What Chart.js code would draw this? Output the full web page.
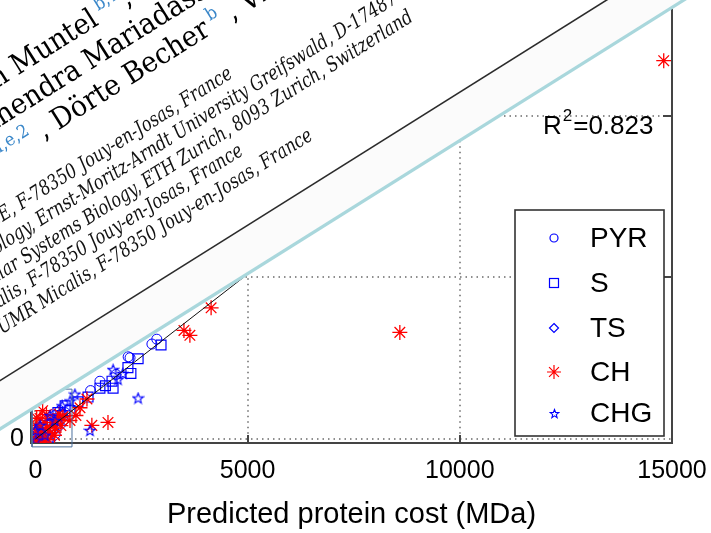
<!DOCTYPE html>
<html><head><meta charset="utf-8">
<script src="https://cdn.jsdelivr.net/npm/chart.js@4/dist/chart.umd.min.js"></script>
<style>html,body{margin:0;padding:0;background:#fff;overflow:hidden}canvas{display:block}</style>
</head><body>
<canvas id="c" width="711" height="533"></canvas>
<script>
// ---------- data ----------
const seriesNames = ['PYR', 'S', 'TS', 'CH', 'CHG'];
const xTickValues = [0, 5000, 10000, 15000];
const yTickValues = [0, 5000, 10000];
const xTitle = 'Predicted protein cost (MDa)';
const r2Value = '0.823';

const pyrPoints = [[60,60],[110,210],[225,330],[345,575],[460,730],[580,880],[150,420],[300,150],[400,260],[520,450],[700,820],[1520,1790],[2185,2545],[2230,2515],[2745,2940],[2860,3090],[1900,2000],[1300,1500]];
const sPoints = [[2960,2910],[2420,2485],[2180,2210],[2250,2030],[1830,1575],[1520,1575],[1805,1790],[1240,1300],[700,1030],[530,820],[815,880],[390,575],[630,730],[225,425],[110,180],[300,60],[1000,1150],[1650,1650]];
const tsPoints = [[460,120],[155,30],[390,330],[60,270],[580,425],[250,200],[700,600]];
const chPoints = [[14805,11700],[8587,3300],[4140,4060],[3500,3360],[3640,3210],[1710,515],[1330,425],[1215,1240],[1050,970],[955,730],[815,575],[20,-40],[60,80],[150,260],[10,420],[110,640],[230,510],[350,200],[470,340],[300,-20],[200,-90],[80,300],[40,180],[260,760],[520,610],[600,420],[130,30],[390,520],[170,880],[30,650],[450,120],[560,780],[90,-60],[280,360],[650,700]];
const chgPoints = [[2420,1270],[1830,2150],[1285,270],[930,1390],[1945,1850],[2060,2030],[815,1180],[110,425],[225,120],[345,730],[460,575],[15,-30],[630,1030],[0,270]];
const fitLine = [[0,0],[15000,15300]];
const zoomBox = [[-80,-240],[862,-240],[862,1545],[-80,1545],[-80,-240]];

// paper overlay text
const affiliationLines = [
  'a INRA, UR1404 MaIAGE, F-78350 Jouy-en-Josas, France',
  'b Institute for Microbiology, Ernst-Moritz-Arndt University Greifswald, D-17487 Greifswald, Germany',
  'c Institute of Molecular Systems Biology, ETH Zurich, 8093 Zurich, Switzerland',
  'd INRA, UMR1319 Micalis, F-78350 Jouy-en-Josas, France',
  'e AgroParisTech, UMR Micalis, F-78350 Jouy-en-Josas, France'
];

// ---------- helpers ----------
const toXY = arr => arr.map(p => ({x: p[0], y: p[1]}));
function makeStar(size, lw) {
  const c = document.createElement('canvas');
  c.width = size; c.height = size;
  const g = c.getContext('2d');
  const cx = size / 2, cy = size / 2 + 0.5, R = size / 2 - 1, r = R * 0.42;
  g.beginPath();
  for (let i = 0; i < 10; i++) {
    const a = -Math.PI / 2 + i * Math.PI / 5;
    const rr = i % 2 ? r : R;
    g[i ? 'lineTo' : 'moveTo'](cx + rr * Math.cos(a), cy + rr * Math.sin(a));
  }
  g.closePath();
  g.strokeStyle = '#0000ff'; g.lineWidth = lw; g.stroke();
  return c;
}
const starBig = makeStar(13, 1.1);
const starSmall = makeStar(11, 1.1);

function marker(ctx, kind, x, y, r) {
  ctx.save();
  ctx.lineWidth = 1.2;
  ctx.strokeStyle = kind === 'CH' ? '#ff0000' : '#0000ff';
  ctx.beginPath();
  if (kind === 'PYR') { ctx.arc(x, y, r, 0, Math.PI * 2); ctx.stroke(); }
  else if (kind === 'S') { ctx.strokeRect(x - r, y - r, 2 * r, 2 * r); }
  else if (kind === 'TS') { ctx.moveTo(x, y - r); ctx.lineTo(x + r, y); ctx.lineTo(x, y + r); ctx.lineTo(x - r, y); ctx.closePath(); ctx.stroke(); }
  else if (kind === 'CH') {
    for (let i = 0; i < 4; i++) { const a = i * Math.PI / 4; ctx.moveTo(x - r * Math.cos(a), y - r * Math.sin(a)); ctx.lineTo(x + r * Math.cos(a), y + r * Math.sin(a)); }
    ctx.stroke();
  } else if (kind === 'CHG') { ctx.drawImage(starSmall, Math.round(x - 5.5), Math.round(y - 5.5)); }
  ctx.restore();
}

// draws text segments along the local x axis; segment anchorIdx starts at u0
function drawRun(ctx, segs, anchorIdx, u0, v) {
  const widths = segs.map(s => { ctx.font = s.f; return ctx.measureText(s.t).width * (s.sx || 1); });
  let u = u0;
  for (let i = 0; i < anchorIdx; i++) u -= widths[i];
  segs.forEach((s, i) => {
    ctx.save();
    ctx.translate(u, v + (s.dy || 0));
    ctx.scale(s.sx || 1, 1);
    ctx.font = s.f; ctx.fillStyle = s.c;
    ctx.fillText(s.t, 0, 0);
    ctx.restore();
    u += widths[i];
  });
}

const deco = {
  id: 'deco',
  beforeDatasetsDraw(chart) {
    const {ctx, chartArea: a, scales: {x, y}} = chart;
    ctx.save();
    ctx.strokeStyle = '#6a6a6a'; ctx.lineWidth = 1.5; ctx.setLineDash([1.5, 4]);
    xTickValues.forEach(v => {
      const px = Math.round(x.getPixelForValue(v));
      if (px > a.right - 3) return;
      ctx.beginPath(); ctx.moveTo(px, a.top); ctx.lineTo(px, a.bottom - 1); ctx.stroke();
    });
    yTickValues.forEach(v => {
      const py = Math.round(y.getPixelForValue(v));
      ctx.beginPath(); ctx.moveTo(a.left, py); ctx.lineTo(a.right, py); ctx.stroke();
    });
    ctx.restore();
  },
  afterDatasetsDraw(chart) {
    const {ctx, chartArea: a, scales: {x, y}} = chart;
    ctx.save();
    ctx.strokeStyle = '#444'; ctx.lineWidth = 2;
    ctx.beginPath(); ctx.moveTo(a.right, a.top); ctx.lineTo(a.right, a.bottom); ctx.stroke();
    xTickValues.forEach(v => {
      const px = Math.round(x.getPixelForValue(v));
      if (px <= a.left + 5 || px >= a.right - 3) return;
      ctx.beginPath(); ctx.moveTo(px, a.bottom); ctx.lineTo(px, a.bottom - 8); ctx.stroke();
    });
    yTickValues.forEach(v => {
      const py = Math.round(y.getPixelForValue(v));
      if (py >= a.bottom - 5) return;
      ctx.beginPath(); ctx.moveTo(a.right, py); ctx.lineTo(a.right - 9, py); ctx.stroke();
      ctx.beginPath(); ctx.moveTo(a.left, py); ctx.lineTo(a.left + 9, py); ctx.stroke();
    });
    // R^2 annotation
    const py10 = y.getPixelForValue(10000);
    let tx = a.right - 129;
    const base = py10 + 18;
    ctx.fillStyle = '#000';
    ctx.textBaseline = 'alphabetic'; ctx.textAlign = 'left';
    ctx.font = '26px "Liberation Sans"';
    ctx.fillText('R', tx, base); tx += ctx.measureText('R').width + 1;
    ctx.font = '17px "Liberation Sans"';
    ctx.fillText('2', tx, base - 13); tx += ctx.measureText('2').width + 1;
    ctx.font = '26px "Liberation Sans"';
    ctx.fillText('=' + r2Value, tx, base);
    // legend
    const bx = a.right - 157, by = a.bottom - 233, bw = 149, bh = 226;
    ctx.fillStyle = '#fff'; ctx.fillRect(bx, by, bw, bh);
    ctx.strokeStyle = '#333'; ctx.lineWidth = 1.6; ctx.strokeRect(bx, by, bw, bh);
    const rows = [28, 73, 118, 162, 203];
    const sizes = {PYR: 4, S: 4.5, TS: 4.5, CH: 7, CHG: 4};
    ctx.font = '28px "Liberation Sans"'; ctx.textBaseline = 'middle';
    seriesNames.forEach((n, i) => {
      marker(ctx, n, bx + 39, by + rows[i], sizes[n]);
      ctx.fillStyle = '#000';
      ctx.fillText(n, bx + 75, by + rows[i] + 1);
    });
    ctx.restore();
  },
  afterDraw(chart) {
    const ctx = chart.ctx;
    const TH = 32.1 * Math.PI / 180;
    ctx.save();
    ctx.translate(0, 429);
    ctx.rotate(-TH);
    ctx.fillStyle = '#ffffff';
    ctx.fillRect(-800, -1400, 3000, 1400);
    ctx.fillStyle = '#fbfbfb';
    ctx.fillRect(-800, -41, 3000, 41);
    ctx.strokeStyle = '#2b2b2b'; ctx.lineWidth = 1.6;
    ctx.beginPath(); ctx.moveTo(-800, -41); ctx.lineTo(2200, -41); ctx.stroke();
    ctx.strokeStyle = '#a9d7dc'; ctx.lineWidth = 3.2;
    ctx.beginPath(); ctx.moveTo(-800, 0); ctx.lineTo(2200, 0); ctx.stroke();

    ctx.textBaseline = 'alphabetic'; ctx.textAlign = 'left';
    // affiliations (italic, slightly condensed)
    const SX = 0.8;
    ctx.font = 'italic 100px "DejaVu Serif"';
    const ref = ctx.measureText('UMR Micalis, F-78350 Jouy-en-Josas, France').width * SX;
    const sf = 'italic ' + (100 * 368 / ref).toFixed(2) + 'px "DejaVu Serif"';
    const T = '#111';
    const one = t => [{t, f: sf, c: T, sx: SX}];
    drawRun(ctx, one(affiliationLines[0]), 1, 385, -174);
    drawRun(ctx, one(affiliationLines[2]), 1, 568, -126);
    drawRun(ctx, one(affiliationLines[3]), 1, 353, -103);
    drawRun(ctx, one(affiliationLines[4]), 1, 420, -79);
    const bline = affiliationLines[1];
    const cut = bline.indexOf('D-17487');
    drawRun(ctx, [{t: bline.slice(0, cut), f: sf, c: T, sx: SX}, {t: bline.slice(cut), f: sf, c: T, sx: SX}], 1, 494, -150);

    // author names
    const nf = '29px "DejaVu Serif"', supf = '18px "DejaVu Serif"';
    const K = '#000', B = '#3a87c9', NS = 0.92;
    const N = t => ({t, f: nf, c: K, sx: NS});
    const S = t => ({t, f: supf, c: B, sx: NS, dy: -12});
    drawRun(ctx, [N('Anne Goelzer'), S(' a,1'), N(', Jan '), N('Muntel'), S(' b,1'), N(', Victor Chubukov')], 3, 203, -290);
    drawRun(ctx, [N('Rolf Nölker'), S(' b'), N(', Mahendra '), N('Mariadassou'), S(' a'), N(', Stéphane Aymerich')], 3, 267, -256);
    drawRun(ctx, [N('Philippe Noirot '), S('a,e,2'), N(' , '), N('Dörte Becher'), S(' b'), N(' , Vincent Fromion')], 3, 208, -222);
    ctx.restore();
  }
};

Chart.defaults.font.family = '"Liberation Sans", Arial, sans-serif';
Chart.defaults.color = '#000';

new Chart(document.getElementById('c'), {
  type: 'scatter',
  data: {
    datasets: [
      {label: 'fit', data: toXY(fitLine), showLine: true, borderColor: '#111', borderWidth: 1, pointRadius: 0, fill: false},
      {label: 'box', data: toXY(zoomBox), showLine: true, borderColor: '#4b6f9c', borderWidth: 1, pointRadius: 0, fill: false, clip: false},
      {label: seriesNames[4], data: toXY(chgPoints), pointStyle: starBig, pointRadius: 6},
      {label: seriesNames[3], data: toXY(chPoints), pointStyle: 'star', pointRadius: 7.5, borderColor: '#ff0000', backgroundColor: '#ff0000', pointBorderWidth: 1.3},
      {label: seriesNames[2], data: toXY(tsPoints), pointStyle: 'rectRot', pointRadius: 6, borderColor: '#0000ff', backgroundColor: 'rgba(0,0,0,0)', pointBorderWidth: 1},
      {label: seriesNames[1], data: toXY(sPoints), pointStyle: 'rect', pointRadius: 7, borderColor: '#0000ff', backgroundColor: 'rgba(0,0,0,0)', pointBorderWidth: 1.2},
      {label: seriesNames[0], data: toXY(pyrPoints), pointStyle: 'circle', pointRadius: 5, borderColor: '#0000ff', backgroundColor: 'rgba(0,0,0,0)', pointBorderWidth: 1}
    ]
  },
  options: {
    responsive: false,
    animation: false,
    events: [],
    layout: {padding: {left: 0, right: 39, top: 0, bottom: 0}},
    plugins: {legend: {display: false}, tooltip: {enabled: false}},
    scales: {
      x: {
        type: 'linear', min: -104, max: 15000,
        afterBuildTicks: s => { s.ticks = xTickValues.map(v => ({value: v})); },
        afterFit: s => { s.height = 90; s.paddingLeft = 0; s.paddingRight = 0; },
        grid: {drawOnChartArea: false, drawTicks: false},
        border: {display: true, color: '#444', width: 2},
        ticks: {font: {size: 25}, color: '#000', padding: 13, maxRotation: 0, autoSkip: false, callback: v => String(v)},
        title: {display: true, text: xTitle, font: {size: 29}, color: '#000', padding: {top: 0, bottom: 1}}
      },
      y: {
        type: 'linear', min: -120, max: 13304,
        afterBuildTicks: s => { s.ticks = yTickValues.map(v => ({value: v})); },
        afterFit: s => { s.width = 31; s.paddingTop = 0; s.paddingBottom = 0; },
        grid: {drawOnChartArea: false, drawTicks: false},
        border: {display: true, color: '#444', width: 2},
        ticks: {font: {size: 25}, color: '#000', padding: 7, autoSkip: false, callback: v => String(v)}
      }
    }
  },
  plugins: [deco]
});
</script>
</body></html>
